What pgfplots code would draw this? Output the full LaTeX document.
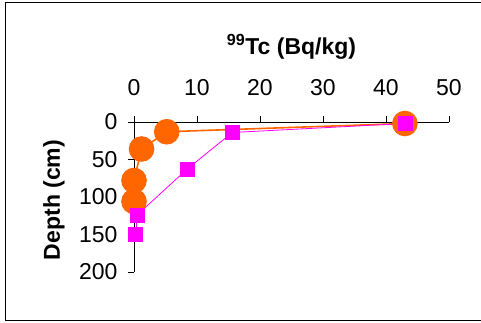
\documentclass[border=0pt]{standalone}
\usepackage{pgfplots}
\pgfplotsset{compat=1.18}
\usepackage{fontspec}
\setmainfont{Liberation Sans}
\definecolor{tcorange}{HTML}{FF6600}
\definecolor{tcmag}{HTML}{FF00FF}
\begin{document}
\begin{tikzpicture}[x=1pt,y=1pt]
\useasboundingbox (0,0) rectangle (481,322);
\clip (0,0) rectangle (481,322);
\draw[line width=1pt] (5,1.5) rectangle (495,319.5);
\begin{axis}[
  at={(134pt,50pt)}, anchor=south west,
  scale only axis, width=315pt, height=150pt,
  xmin=0, xmax=50, ymin=0, ymax=200,
  y dir=reverse,
  axis x line=top, axis y line=left,
  axis line style={-, line width=0.8pt},
  xtick={0,10,...,50}, ytick={0,50,...,200},
  tick align=outside, major tick length=6pt,
  tick style={black, line width=0.8pt},
  xticklabel pos=upper,
  xticklabel shift=17pt, yticklabel shift=7pt,
  /pgf/number format/assume math mode=true,
  ticklabel style={font=\fontsize{23}{23}\selectfont},
  clip=false,
]
\addplot[color=tcorange, line width=1.6pt, mark=*, mark size=12pt, mark options={fill=tcorange, draw=tcorange}]
 coordinates {(43,2) (5.2,13) (1.2,36) (0,78) (0,106)};
\addplot[color=tcmag, line width=0.8pt, mark=square*, mark size=7pt, mark options={fill=tcmag, draw=tcmag}]
 coordinates {(43,2) (15.6,14) (8.4,63) (0.5,124) (0.3,150)};
\end{axis}
\node[font=\fontsize{23}{23}\selectfont\bfseries] at (291.5,275) {\textsuperscript{99}Tc (Bq/kg)};
\node[font=\fontsize{23}{23}\selectfont\bfseries, rotate=90] at (54,122) {Depth (cm)};
\end{tikzpicture}
\end{document}
